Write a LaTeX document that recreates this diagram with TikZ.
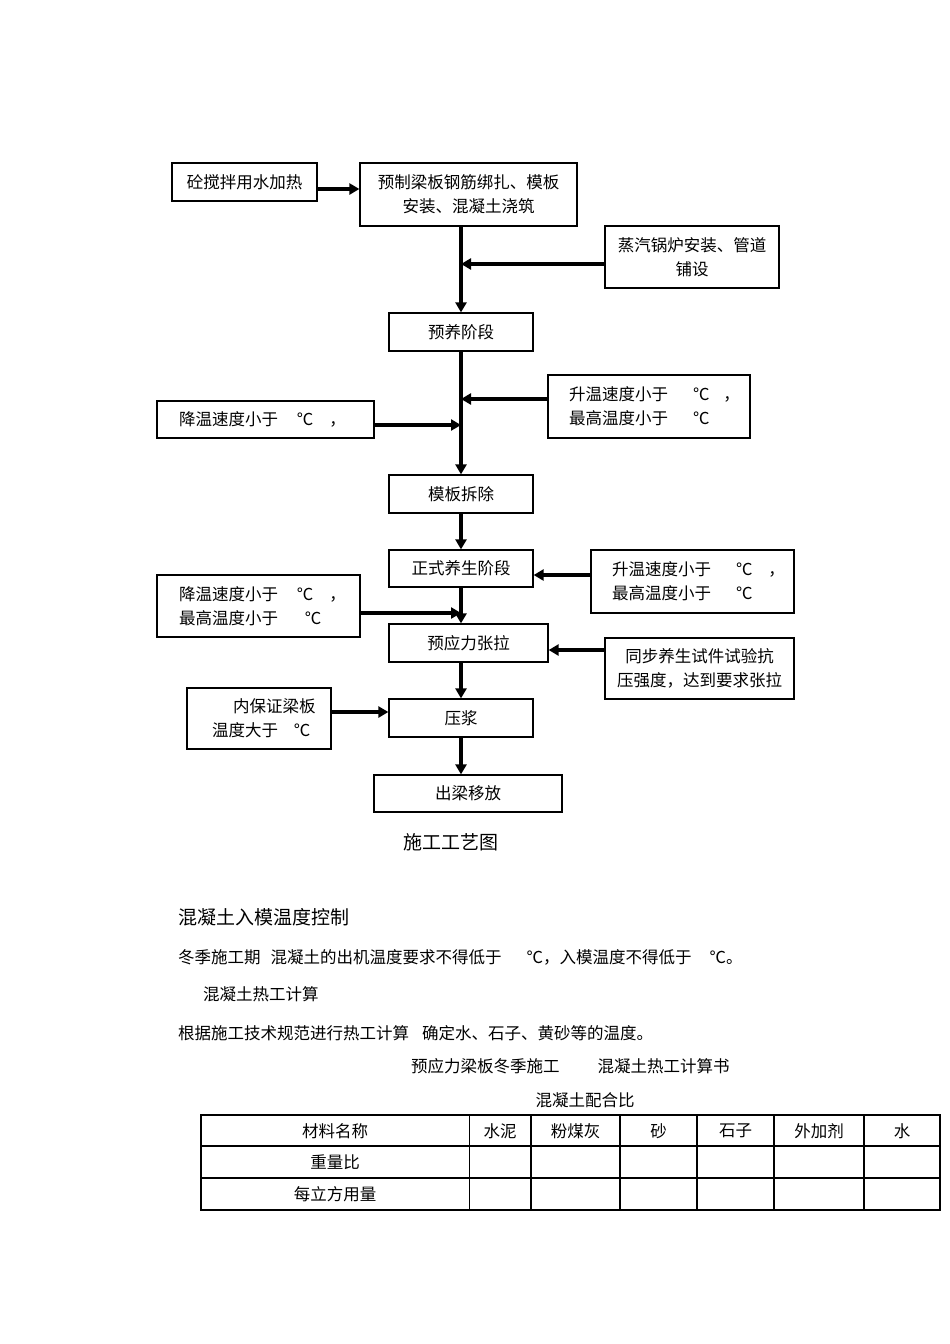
\documentclass[tikz,border=0pt]{standalone}
\usepackage{fontspec}
\setmainfont{Noto Sans CJK SC}
\usetikzlibrary{positioning, arrows.meta}

\begin{document}
\begin{tikzpicture}[
    x=1pt, y=-1pt,
    stage/.style={draw, line width=1.3pt, inner sep=0pt, align=center, font=\fontsize{16.5}{24}\selectfont},
    cond/.style={draw, line width=1.3pt, inner ysep=0pt, align=left, font=\fontsize{16.5}{24}\selectfont},
    arr/.style={-{Triangle[length=10pt, width=11pt]}, line width=3.2pt},
    txt/.style={inner sep=0pt, font=\fontsize{16.5}{20}\selectfont},
    head/.style={inner sep=0pt, font=\fontsize{19}{22}\selectfont},
    tline/.style={line width=1.2pt}
]
\useasboundingbox (0,0) rectangle (950,1344);

% Main stages
\node[stage, minimum width=217pt, minimum height=63pt] (cast) at (468.5,194.5) {预制梁板钢筋绑扎、模板\\安装、混凝土浇筑};
\node[stage, minimum width=144pt, minimum height=38pt] (precure) at (461,332) {预养阶段};
\node[stage, minimum width=144pt, minimum height=38pt] (strip) at (461,494) {模板拆除};
\node[stage, minimum width=144pt, minimum height=37pt] (cure) at (461,568.5) {正式养生阶段};
\node[stage, minimum width=159pt, minimum height=38pt] (tension) at (468.5,643) {预应力张拉};
\node[stage, minimum width=144pt, minimum height=38pt] (grout) at (461,718) {压浆};
\node[stage, minimum width=188pt, minimum height=37pt] (lift) at (468,793.5) {出梁移放};

% Side conditions
\node[stage, minimum width=145pt, minimum height=38pt] (heat) at (244.5,182) {砼搅拌用水加热};
\node[stage, minimum width=174pt, minimum height=62pt] (boiler) at (692,257) {蒸汽锅炉安装、管道\\铺设};
\node[cond, text width=160pt, inner xsep=21pt, minimum height=63pt] (rise1) at (649,406.5) {\mbox{升温速度小于\hspace{25pt}℃\hspace{14pt}，}\\\mbox{最高温度小于\hspace{25pt}℃}};
\node[cond, text width=173pt, inner xsep=22pt, minimum height=37pt] (down1) at (265.5,419.5) {\mbox{降温速度小于\hspace{19pt}℃\hspace{16pt}，}};
\node[cond, text width=161pt, inner xsep=21pt, minimum height=63pt] (rise2) at (692.5,581.5) {\mbox{升温速度小于\hspace{25pt}℃\hspace{16pt}，}\\\mbox{最高温度小于\hspace{25pt}℃}};
\node[cond, text width=159pt, inner xsep=22pt, minimum height=62pt] (down2) at (258.5,606) {\mbox{降温速度小于\hspace{19pt}℃\hspace{16pt}，}\\\mbox{最高温度小于\hspace{27pt}℃}};
\node[stage, minimum width=189pt, minimum height=61pt] (test) at (699.5,668.5) {同步养生试件试验抗\\压强度，达到要求张拉};
\node[cond, text width=94pt, inner xsep=25pt, minimum height=61pt] (keep) at (259,718.5) {\mbox{\hspace*{21pt}内保证梁板}\\\mbox{温度大于\hspace{16pt}℃}};

% Junctions on the main line
\foreach \n/\yy in {jHeat/189, jBoiler/264, jRise1/399, jDown1/425, jRise2/575, jDown2/613, jTest/650, jKeep/712}
  \coordinate (\n) at (461,\yy);

% Arrows
\draw[arr] (heat.east |- jHeat) -- (cast.west |- jHeat);
\draw[arr] (cast.south -| precure) -- (precure.north);
\draw[arr] (boiler.west |- jBoiler) -- (jBoiler);
\draw[arr] (precure) -- (strip);
\draw[arr] (rise1.west |- jRise1) -- (jRise1);
\draw[arr] (down1.east |- jDown1) -- (jDown1);
\draw[arr] (strip) -- (cure);
\draw[arr] (rise2.west |- jRise2) -- (cure.east |- jRise2);
\draw[arr] (cure.south) -- (cure.south |- tension.north);
\draw[arr] (down2.east |- jDown2) -- (jDown2);
\draw[arr] (test.west |- jTest) -- (tension.east |- jTest);
\draw[arr] (tension.south -| grout) -- (grout.north);
\draw[arr] (keep.east |- jKeep) -- (grout.west |- jKeep);
\draw[arr] (grout.south) -- (grout.south |- lift.north);

% Caption and text
\node[head] (caption) at (451,842) {施工工艺图};
\node[head, anchor=west] (sec1) at (178,917) {混凝土入模温度控制};
\node[txt, anchor=west] (para1) at (178,957) {冬季施工期\hspace{10pt}混凝土的出机温度要求不得低于\hspace{25pt}℃，入模温度不得低于\hspace{18pt}℃。};
\node[txt, anchor=west] (sec2) at (203,994) {混凝土热工计算};
\node[txt, anchor=west] (para2) at (178,1033) {根据施工技术规范进行热工计算\hspace{13pt}确定水、石子、黄砂等的温度。};
\node[txt, anchor=west] (title) at (411,1066) {预应力梁板冬季施工\hspace{38pt}混凝土热工计算书};
\node[txt] (tabtitle) at (585,1100) {混凝土配合比};

% Mix table
\foreach \x in {469.5,531,620,697,774,864}
  \draw[tline] (\x,1115) -- (\x,1210);
\foreach \y in {1146,1178}
  \draw[tline] (201,\y) -- (940,\y);
\draw[line width=2.2pt] (201,1115) rectangle (940,1210);
\foreach \cx/\name in {335/材料名称, 500/水泥, 575.5/粉煤灰, 658.5/砂, 735.5/石子, 819/外加剂, 902/水}
  \node[txt] at (\cx,1131) {\name};
\node[txt] (rowratio) at (335,1162) {重量比};
\node[txt] (rowamount) at (335,1194) {每立方用量};

\end{tikzpicture}
\end{document}
